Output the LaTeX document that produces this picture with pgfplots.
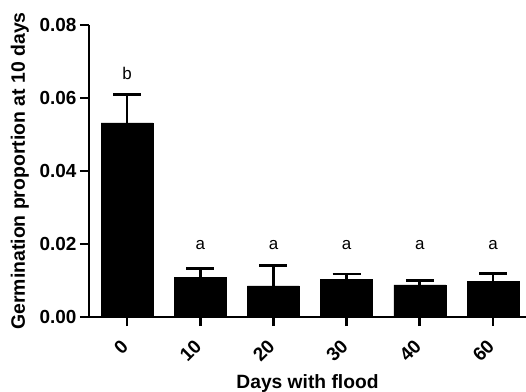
\documentclass[border=0pt]{standalone}
\usepackage{pgfplots}
\usepackage{pgfplotstable}
\pgfplotsset{compat=1.18}
\usepackage{fontspec}
\setmainfont{Liberation Sans}
\begin{document}
\begin{tikzpicture}
\path[use as bounding box] (-89bp,-75bp) rectangle (437bp,317bp);
\pgfplotstableread{
x y err
0 0.0532 0.0078
1 0.0108 0.0024
2 0.0085 0.0057
3 0.0104 0.0014
4 0.0088 0.0013
5 0.0098 0.0022
}\datatable
\begin{axis}[
  at={(0,0)}, anchor=south west,
  scale only axis, width=437bp, height=292bp,
  xmin=-0.52, xmax=5.45, ymin=0, ymax=0.08,
  axis lines=left,
  axis line style={-, line width=2.8bp, black},
  tick align=outside,
  major tick length=9bp,
  tick style={line width=2.8bp, black},
  xtick={0,1,2,3,4,5},
  xticklabels={0,10,20,30,40,60},
  ytick={0,0.02,0.04,0.06,0.08},
  /pgf/number format/assume math mode=true,
  yticklabel style={/pgf/number format/fixed, /pgf/number format/fixed zerofill, /pgf/number format/precision=2, font=\fontsize{19}{21}\selectfont\bfseries},
  scaled y ticks=false,
  xticklabel style={xshift=-7bp, yshift=-11bp, rotate=45, anchor=north east, inner sep=1bp, font=\fontsize{19}{21}\selectfont\bfseries},
  ylabel={Germination proportion at 10 days},
  xlabel={Days with flood},
  ylabel style={font=\fontsize{19.5}{21}\selectfont\bfseries, yshift=4bp},
  xlabel style={font=\fontsize{19.3}{21}\selectfont\bfseries, yshift=-7bp},
  clip=false,
]
\addplot[ybar, bar width=52bp, fill=black, draw=black,
  error bars/.cd, y dir=plus, y explicit,
  error bar style={line width=2.8bp, black},
  error mark options={rotate=90, mark size=14bp, line width=2.8bp, black}]
  table[x=x, y=y, y error=err]{\datatable};
\node[anchor=base, font=\fontsize{17}{19}\selectfont] at (axis cs:0,0.0652) {b};
\node[anchor=base, font=\fontsize{17}{19}\selectfont] at (axis cs:1,0.01836) {a};
\node[anchor=base, font=\fontsize{17}{19}\selectfont] at (axis cs:2,0.01836) {a};
\node[anchor=base, font=\fontsize{17}{19}\selectfont] at (axis cs:3,0.01836) {a};
\node[anchor=base, font=\fontsize{17}{19}\selectfont] at (axis cs:4,0.01836) {a};
\node[anchor=base, font=\fontsize{17}{19}\selectfont] at (axis cs:5,0.01836) {a};
\end{axis}
\end{tikzpicture}
\end{document}
